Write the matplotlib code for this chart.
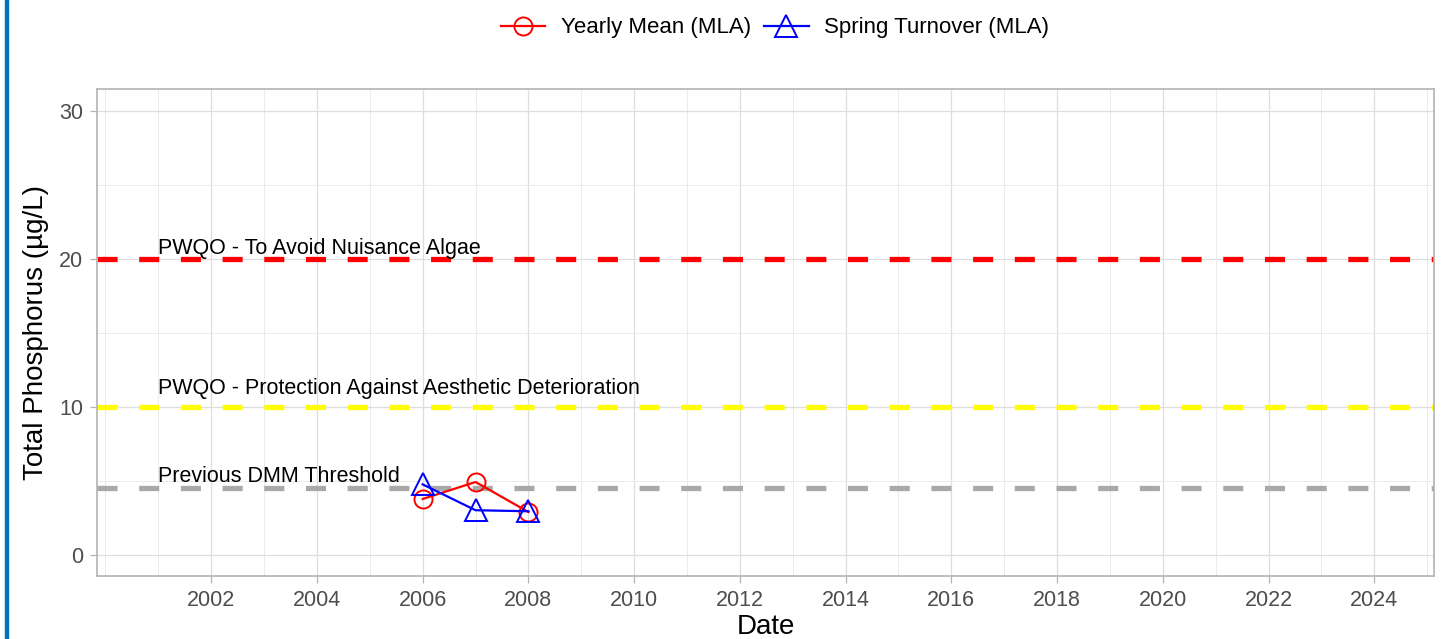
import matplotlib
matplotlib.use("Agg")
import matplotlib.pyplot as plt
from matplotlib.patches import Rectangle
from matplotlib.lines import Line2D

plt.rcParams['font.family'] = ['Liberation Sans', 'DejaVu Sans']

# Data
years = [2006, 2007, 2008]
yearly_mean = [3.76, 4.91, 2.88]
spring_turnover = [4.75, 3.0, 2.93]

thresholds = [20, 10, 4.5]
threshold_labels = ["PWQO - To Avoid Nuisance Algae",
                    "PWQO - Protection Against Aesthetic Deterioration",
                    "Previous DMM Threshold"]
threshold_colors = ["#FF0000", "#FFFF00", "#A9A9A9"]
label_y = [20.34, 10.88, 4.93]

major_years = list(range(2002, 2025, 2))
minor_years = [y for y in range(2000, 2026) if y not in major_years]

W, H = 1442, 639
fig = plt.figure(figsize=(W / 100, H / 100), dpi=100)
ax = fig.add_axes([97 / W, (H - 576) / H, (1434 - 97) / W, (576 - 89) / H])

# Left blue strip
fig.patches.append(Rectangle((5 / W, 0), 3 / W, 1, transform=fig.transFigure,
                             color="#0070C0", zorder=10))

ax.set_xlim(1999.84, 2025.13)
ax.set_ylim(-1.45, 31.5)

ax.set_xticks(major_years)
ax.set_xticks(minor_years, minor=True)
ax.set_yticks([0, 10, 20, 30])
ax.set_yticks([5, 15, 25], minor=True)
ax.grid(which='major', color="#DEDEDE", linewidth=0.9)
ax.grid(which='minor', color="#EBEBEB", linewidth=0.7)
ax.set_axisbelow(True)

for s in ax.spines.values():
    s.set_color("#B3B3B3")
    s.set_linewidth(1.2)

ax.tick_params(which='major', length=5, width=0.9, color="#B3B3B3",
               labelsize=15.5, labelcolor="#4D4D4D", pad=5)
ax.tick_params(which='minor', length=0)

# Threshold lines
for val, lab, col, ly in zip(thresholds, threshold_labels, threshold_colors, label_y):
    ax.axhline(val, color=col, linewidth=3.8, linestyle=(0, (3.8, 4.1)),
               dash_capstyle='butt', zorder=2)
    ax.text(2001, ly, lab, fontsize=15.5, color="black", ha='left', va='baseline', zorder=5)

# Series
ax.plot(years, yearly_mean, color="#FF0000", linewidth=1.6, marker='o',
        markersize=13, markerfacecolor='none', markeredgewidth=1.4, zorder=4)
ax.plot(years, spring_turnover, color="#0000FF", linewidth=1.6, marker='^',
        markersize=16.5, markerfacecolor='none', markeredgewidth=1.4, zorder=4)

ax.set_xlabel("Date", fontsize=20, labelpad=2)
ax.set_ylabel("Total Phosphorus (\u00b5g/L)", fontsize=20, labelpad=7)

handles = [
    Line2D([], [], color="#FF0000", linewidth=1.6, marker='o', markersize=13,
           markerfacecolor='none', markeredgewidth=1.4),
    Line2D([], [], color="#0000FF", linewidth=1.6, marker='^', markersize=16.5,
           markerfacecolor='none', markeredgewidth=1.4),
]
fig.legend(handles, ["Yearly Mean (MLA)", "Spring Turnover (MLA)"],
           loc='center', bbox_to_anchor=(775 / W, 1 - 28 / H), ncol=2,
           frameon=False, fontsize=16, handlelength=2.0, columnspacing=0.6,
           handletextpad=0.7)

fig.savefig("out.png", dpi=100)
